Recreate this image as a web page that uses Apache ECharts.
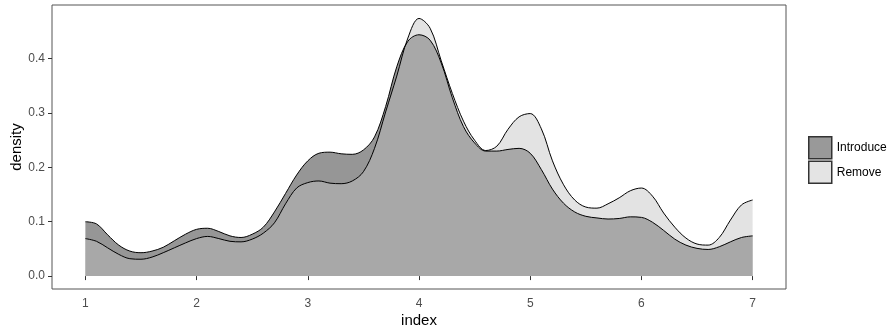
<!DOCTYPE html>
<html>
<head>
<meta charset="utf-8">
<script src="https://cdn.jsdelivr.net/npm/echarts@6/dist/echarts.min.js"></script>
<style>
  html, body { margin: 0; padding: 0; background: #fff; }
  #chart { width: 893px; height: 331px; }
</style>
</head>
<body>
<div id="chart"></div>
<script>
const xs = [1.0, 1.1, 1.2, 1.3, 1.4, 1.5, 1.6, 1.7, 1.8, 1.9,
  2.0, 2.1, 2.2, 2.3, 2.4, 2.5, 2.6, 2.7, 2.8, 2.9,
  3.0, 3.1, 3.2, 3.3, 3.4, 3.5, 3.6, 3.7, 3.8, 3.9,
  4.0, 4.1, 4.2, 4.3, 4.4, 4.5, 4.6, 4.7, 4.8, 4.9,
  5.0, 5.1, 5.2, 5.3, 5.4, 5.5, 5.6, 5.7, 5.8, 5.9,
  6.0, 6.1, 6.2, 6.3, 6.4, 6.5, 6.6, 6.7, 6.8, 6.9, 7.0]

const introduce = [0.100, 0.096, 0.076, 0.057, 0.046, 0.043, 0.046, 0.053, 0.065, 0.077,
  0.086, 0.088, 0.082, 0.074, 0.071, 0.077, 0.090, 0.118, 0.152, 0.186,
  0.212, 0.226, 0.228, 0.225, 0.224, 0.232, 0.256, 0.312, 0.385, 0.432,
  0.444, 0.434, 0.392, 0.328, 0.275, 0.245, 0.230, 0.230, 0.233, 0.235,
  0.226, 0.196, 0.160, 0.134, 0.118, 0.110, 0.107, 0.105, 0.106, 0.109,
  0.108, 0.099, 0.084, 0.068, 0.057, 0.051, 0.049, 0.054, 0.063, 0.071, 0.074]

const remove = [0.069, 0.064, 0.052, 0.040, 0.032, 0.031, 0.035, 0.043, 0.052, 0.061,
  0.069, 0.073, 0.069, 0.064, 0.063, 0.068, 0.079, 0.098, 0.133, 0.162,
  0.172, 0.175, 0.171, 0.170, 0.175, 0.192, 0.235, 0.302, 0.368, 0.438,
  0.474, 0.456, 0.396, 0.336, 0.285, 0.250, 0.231, 0.239, 0.270, 0.293,
  0.299, 0.271, 0.212, 0.168, 0.140, 0.127, 0.125, 0.133, 0.144, 0.157,
  0.162, 0.147, 0.116, 0.090, 0.070, 0.059, 0.057, 0.071, 0.103, 0.131, 0.140]

const xTicks = [1, 2, 3, 4, 5, 6, 7]
const yTicks = [0, 0.1, 0.2, 0.3, 0.4]

const font = 'Liberation Sans, Arial, sans-serif'
const pairs = (ys) => xs.map((x, i) => [x, ys[i]])

const chart = echarts.init(document.getElementById('chart'))
chart.setOption({
  animation: false,
  grid: {
    left: 52,
    right: 107,
    top: 5,
    bottom: 42,
    outerBoundsMode: 'none',
    containLabel: false,
    show: true,
    borderColor: '#555',
    borderWidth: 1,
    backgroundColor: '#fff',
  },
  legend: {
    orient: 'vertical',
    left: 808,
    top: 136,
    padding: 0,
    itemWidth: 23,
    itemHeight: 22,
    itemGap: 1,
    icon: 'rect',
    textStyle: { fontFamily: font, fontSize: 12, color: '#000' },
    data: [
      { name: 'Introduce', itemStyle: { color: '#999999', borderColor: '#333', borderWidth: 1.5 } },
      { name: 'Remove', itemStyle: { color: '#e4e4e4', borderColor: '#333', borderWidth: 1.5 } },
    ],
  },
  xAxis: {
    type: 'value',
    min: 0.7,
    max: 7.3,
    name: 'index',
    nameLocation: 'middle',
    nameGap: 24,
    nameMoveOverlap: false,
    nameTextStyle: { fontFamily: font, fontSize: 15, color: '#000' },
    axisLine: { show: false },
    splitLine: { show: false },
    axisTick: { show: true, length: 4, customValues: xTicks, lineStyle: { color: '#333' } },
    axisLabel: {
      customValues: xTicks,
      margin: 9,
      fontFamily: font,
      fontSize: 12,
      color: '#4d4d4d',
    },
  },
  yAxis: {
    type: 'value',
    min: -0.02375,
    max: 0.49875,
    name: 'density',
    nameLocation: 'middle',
    nameGap: 28,
    nameMoveOverlap: false,
    nameTextStyle: { fontFamily: font, fontSize: 15, color: '#000' },
    axisLine: { show: false },
    splitLine: { show: false },
    axisTick: { show: true, length: 4, customValues: yTicks, lineStyle: { color: '#333' } },
    axisLabel: {
      customValues: yTicks,
      margin: 7,
      fontFamily: font,
      fontSize: 12,
      color: '#4d4d4d',
      formatter: (v) => v.toFixed(1),
    },
  },
  series: [
    {
      name: 'Introduce',
      type: 'line',
      data: pairs(introduce),
      smooth: 0.35,
      showSymbol: false,
      lineStyle: { color: '#000', width: 1 },
      itemStyle: { color: '#999999' },
      areaStyle: { color: 'rgba(16,16,16,0.44)', opacity: 1, origin: 'auto' },
    },
    {
      name: 'Remove',
      type: 'line',
      data: pairs(remove),
      smooth: 0.35,
      showSymbol: false,
      lineStyle: { color: '#000', width: 1 },
      itemStyle: { color: '#e4e4e4' },
      areaStyle: { color: 'rgba(191,191,191,0.44)', opacity: 1, origin: 'auto' },
    },
  ],
})
</script>
</body>
</html>
